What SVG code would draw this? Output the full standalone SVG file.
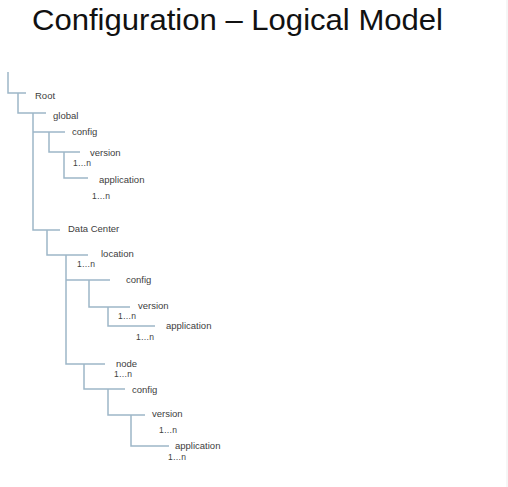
<svg xmlns="http://www.w3.org/2000/svg" width="508" height="487" viewBox="0 0 508 487">
<style>
.bg{fill:#ffffff}
.t{font-family:"Liberation Sans",Arial,sans-serif;font-size:9.5px;fill:#404040}
.m{font-family:"Liberation Sans",Arial,sans-serif;font-size:8.5px;fill:#404040}
.title{font-family:"Liberation Sans",Arial,sans-serif;font-size:29px;fill:#111111}
.c path{fill:none;stroke:#9db6c8;stroke-width:1.5}
</style>
<rect class="bg" x="0" y="0" width="508" height="487"/>
<line x1="507" y1="0" x2="507" y2="487" stroke="#ececec" stroke-width="1"/>
<text class="title" x="32" y="29.5" textLength="411" lengthAdjust="spacingAndGlyphs">Configuration – Logical Model</text>
<g class="c" id="connectors">
<path d="M8 72 V93 H26"/>
<path d="M18 93 V113 H46"/>
<path d="M33 113 V230 H60"/>
<path d="M33 132 H65"/>
<path d="M49 132 V152 H80"/>
<path d="M64 152 V178 H88"/>
<path d="M47 230 V255 H88"/>
<path d="M66 255 V364 H105"/>
<path d="M66 280 H110"/>
<path d="M89 280 V307 H130"/>
<path d="M108 307 V326 H155"/>
<path d="M84 364 V389 H125"/>
<path d="M108 389 V415 H145"/>
<path d="M131 415 V446 H169"/>
</g>
<g id="root"><text class="t" x="35" y="99">Root</text></g>
<g id="global"><text class="t" x="53" y="119">global</text></g>
<g id="global-config"><text class="t" x="72" y="135">config</text></g>
<g id="global-version"><text class="t" x="90" y="156">version</text><text class="m" x="73" y="166">1…n</text></g>
<g id="global-application"><text class="t" x="99" y="183">application</text><text class="m" x="92" y="199">1…n</text></g>
<g id="datacenter"><text class="t" x="68" y="232">Data Center</text></g>
<g id="location"><text class="t" x="101" y="257">location</text><text class="m" x="77" y="267">1…n</text></g>
<g id="location-config"><text class="t" x="126" y="283">config</text></g>
<g id="location-version"><text class="t" x="138" y="309">version</text><text class="m" x="118" y="319">1…n</text></g>
<g id="location-application"><text class="t" x="166" y="329">application</text><text class="m" x="136" y="340">1…n</text></g>
<g id="node"><text class="t" x="116" y="367">node</text><text class="m" x="114" y="377">1…n</text></g>
<g id="node-config"><text class="t" x="132" y="393">config</text></g>
<g id="node-version"><text class="t" x="152" y="417">version</text><text class="m" x="159" y="433">1…n</text></g>
<g id="node-application"><text class="t" x="175" y="449">application</text><text class="m" x="168" y="460">1…n</text></g>
</svg>
